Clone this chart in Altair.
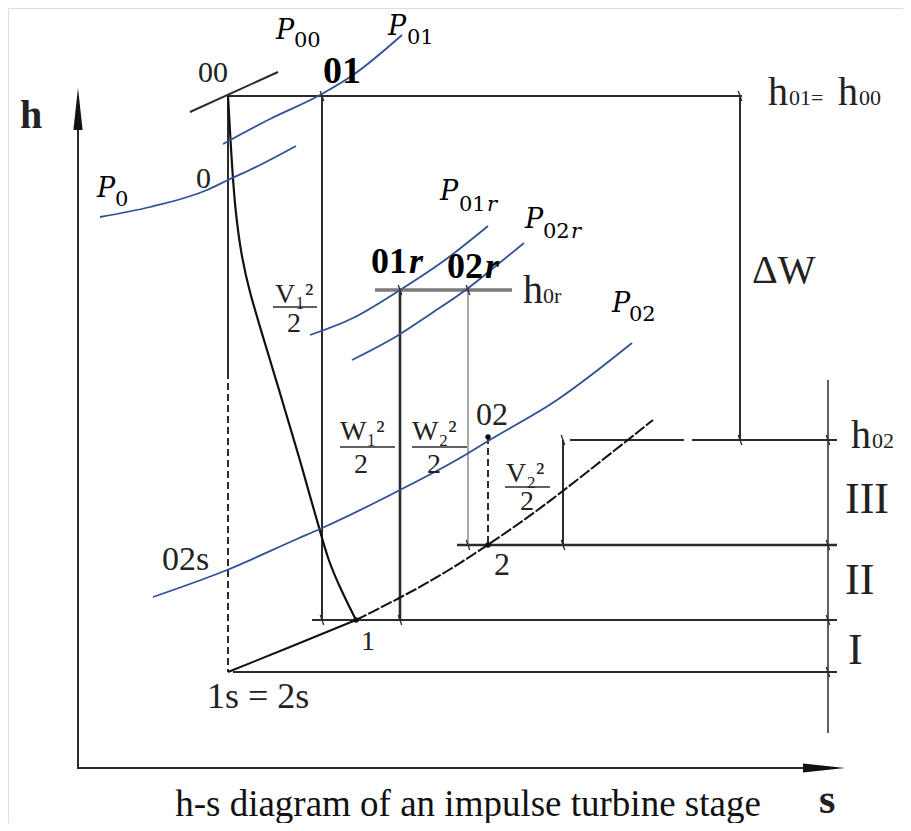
import altair as alt
import pandas as pd

# ---------------- data (diagram coordinates, image space) ----------------
# straight lines: (x1, y1, x2, y2)
axis_lines = [(78, 768, 78, 126), (77, 768, 806, 768)]
main_lines = [
    (190, 112, 278, 72),   # isobar P00 through 00
    (228, 96, 742, 96),    # h01 = h00
    (228, 96, 228, 372),   # isentrope from 00
    (233, 672, 837, 672),  # h1s = h2s
    (312, 620, 837, 620),  # h1
    (322, 96, 322, 620),   # V1^2/2
    (740, 96, 740, 440),   # delta W
    (563, 440, 563, 545),  # V2^2/2
    (570, 440, 684, 440),  # h02 left piece
    (692, 440, 837, 440),  # h02 right piece
]
heavy_lines = [(400, 290, 400, 620), (457, 545, 837, 545)]
thin_lines = [(828, 380, 828, 733)]
grey_heavy = [(375, 290, 512, 290)]
grey_thin = [(468, 290, 468, 545)]
dashed_lines = [(228, 372, 228, 672), (488, 437, 488, 545)]
fraction_bars = [(273, 307, 317, 307), (340, 447, 395, 447),
                 (412, 447, 467, 447), (505, 487, 550, 487)]

# curves
exp_x = [228, 231, 235, 242, 250, 260, 270, 280, 290, 300, 309, 319, 328, 341, 356]
exp_y = [96, 150, 210, 260, 293, 327, 360, 393, 427, 460, 493, 527, 560, 590, 620]
seg1_x = [228, 290, 356]
seg1_y = [672, 647, 620]
low_x = [356, 400, 445, 488, 530, 563, 600, 653]
low_y = [620, 598, 573, 545, 516, 491, 462, 420]

p01_x = [223, 270, 320, 353, 402]
p01_y = [144, 119, 95, 75, 35]
p0_x = [100, 150, 207, 228, 260, 296]
p0_y = [217, 207, 190, 180, 165, 146]
p01r_x = [310, 353, 400, 445, 488]
p01r_y = [335, 318, 290, 260, 226]
p02r_x = [352, 397, 432, 467, 497, 524]
p02r_y = [360, 336, 313, 289, 265, 243]
p02_x = [153, 227, 297, 320, 400, 460, 488, 557, 632]
p02_y = [597, 570, 539, 529, 490, 458, 441, 400, 343]

# state points and tick marks
dots = [(356, 620), (488, 545), (488, 437)]
ticks = [(322, 96), (740, 96), (400, 290), (468, 290), (740, 440), (828, 440),
         (828, 545), (828, 620), (828, 672), (563, 440), (563, 545), (468, 545),
         (322, 620), (400, 620)]

# labels: (text, x, baseline y, font size)
serif_labels = [
    ("00", 198, 82, 30), ("0", 196, 188, 30), ("02s", 162, 570, 34),
    ("1", 361, 650, 28), ("1s = 2s", 207, 708, 36), ("02", 476, 425, 32),
    ("2", 494, 575, 32), ("ΔW", 752, 283, 40), ("III", 845, 513, 44),
    ("II", 845, 594, 44), ("I", 848, 664, 44),
    ("h", 768, 105, 40), ("01", 789, 105, 22), ("=", 811, 105, 22),
    ("h", 838, 105, 40), ("00", 859, 105, 22),
    ("h", 523, 303, 40), ("0r", 543, 303, 22),
    ("h", 851, 448, 40), ("02", 872, 448, 22),
    ("V₁²", 275, 303, 28), ("W₁²", 340, 440, 28), ("W₂²", 412, 440, 28),
    ("V₂²", 506, 482, 28),
]
denominators = [("2", 294, 332), ("2", 361, 473), ("2", 434, 473), ("2", 527, 510)]
axis_labels = [("h", 20, 128, 40), ("s", 819, 813, 42)]
bold_labels = [("01", 323, 83, 38), ("01", 371, 273, 36), ("02", 447, 278, 36)]
italic_r = [("r", 409, 273, 36), ("r", 485, 278, 36)]
p_letters = [("P", 276, 39), ("P", 388, 35), ("P", 97, 197),
             ("P", 440, 200), ("P", 525, 228), ("P", 612, 312)]
p_subs = [("00", 294, 47), ("01", 407, 44), ("0", 115, 206),
          ("01", 459, 211), ("02", 543, 238), ("02", 629, 321)]
p_sub_r = [("r", 487, 211), ("r", 571, 238)]
caption = [("h-s diagram of an impulse turbine stage", 468, 816)]

# ---------------- chart ----------------
W, H = 895, 815
xs = alt.Scale(domain=[8, 903], nice=False, zero=False)
ys = alt.Scale(domain=[8, 823], nice=False, zero=False, reverse=True)
BLUE = "#2F5196"
INK = "#2b2b2b"
SERIF = "Liberation Serif, Times New Roman, Times, serif"
MATH = "DejaVu Serif, serif"


def X(f):
    return alt.X(f"{f}:Q", scale=xs, axis=None)


def Y(f):
    return alt.Y(f"{f}:Q", scale=ys, axis=None)


def rules(segs, **mk):
    df = pd.DataFrame(segs, columns=["x", "y", "x2", "y2"])
    return alt.Chart(df).mark_rule(**mk).encode(x=X("x"), y=Y("y"), x2="x2:Q", y2="y2:Q")


def curve(cx, cy, interp="monotone", **mk):
    df = pd.DataFrame({"x": cx, "y": cy, "i": list(range(len(cx)))})
    return alt.Chart(df).mark_line(interpolate=interp, **mk).encode(
        x=X("x"), y=Y("y"), order="i:Q")


def texts(rows, cols, **mk):
    df = pd.DataFrame(rows, columns=cols)
    enc = dict(x=X("x"), y=Y("y"), text="t:N")
    if "s" in cols:
        enc["size"] = alt.Size("s:Q", scale=None, legend=None)
    return alt.Chart(df).mark_text(baseline="alphabetic", **mk).encode(**enc)


def points(rows, **mk):
    df = pd.DataFrame(rows, columns=["x", "y"])
    return alt.Chart(df).mark_point(**mk).encode(x=X("x"), y=Y("y"))


layers = [
    rules(axis_lines, color=INK, strokeWidth=2),
    rules(main_lines, color=INK, strokeWidth=2),
    rules(heavy_lines, color=INK, strokeWidth=2.6),
    rules(thin_lines, color=INK, strokeWidth=1.5),
    rules(grey_heavy, color="#7a7a7a", strokeWidth=3.5),
    rules(grey_thin, color="#7a7a7a", strokeWidth=1.3),
    rules(dashed_lines, color=INK, strokeWidth=2, strokeDash=[7, 4]),
    rules(fraction_bars, color=INK, strokeWidth=1.5),
    curve(exp_x, exp_y, interp="basis", color="#111", strokeWidth=2.2),
    curve(seg1_x, seg1_y, interp="linear", color="#111", strokeWidth=2),
    curve(low_x, low_y, interp="basis", color="#111", strokeWidth=2, strokeDash=[12, 2]),
    curve(p01_x, p01_y, color=BLUE, strokeWidth=1.8),
    curve(p0_x, p0_y, color=BLUE, strokeWidth=1.8),
    curve(p01r_x, p01r_y, color=BLUE, strokeWidth=1.8),
    curve(p02r_x, p02r_y, color=BLUE, strokeWidth=1.8),
    curve(p02_x, p02_y, color=BLUE, strokeWidth=1.8),
    points(dots, filled=True, color="#111", size=30, opacity=1),
    points(ticks, shape="M-0.35,-1L0.35,1", filled=False, color=INK,
           strokeWidth=1.3, size=100, opacity=1),
    points([(78, 109)], shape="M0,-1L0.22,1L-0.22,1Z", filled=True,
           color="#111", size=1764, opacity=1),
    points([(824, 768)], shape="M1,0L-1,0.22L-1,-0.22Z", filled=True,
           color="#111", size=1764, opacity=1),
    texts(serif_labels, ["t", "x", "y", "s"], align="left", font=SERIF, color="#222"),
    texts(denominators, ["t", "x", "y"], align="center", font=SERIF, fontSize=28, color="#222"),
    texts(axis_labels, ["t", "x", "y", "s"], align="left", font=SERIF,
          fontWeight="bold", color="#222"),
    texts(bold_labels, ["t", "x", "y", "s"], align="left", font=SERIF,
          fontWeight="bold", color="#000"),
    texts(italic_r, ["t", "x", "y", "s"], align="left", font=SERIF,
          fontStyle="italic", fontWeight="bold", color="#000"),
    texts(p_letters, ["t", "x", "y"], align="left", font=MATH,
          fontStyle="italic", fontSize=27, color="#000"),
    texts(p_subs, ["t", "x", "y"], align="left", font=MATH,
          fontSize=21, color="#000"),
    texts(p_sub_r, ["t", "x", "y"], align="left", font=MATH,
          fontStyle="italic", fontSize=21, color="#000"),
    texts(caption, ["t", "x", "y"], align="center", font=SERIF, fontSize=37, color="#111"),
]

chart = alt.layer(*layers).properties(
    width=W, height=H, padding=0,
    autosize=alt.AutoSizeParams(type="none"),
).configure_view(stroke=None).configure(background="white")

chart.save("out.html", embed_options={"renderer": "svg", "actions": False})
